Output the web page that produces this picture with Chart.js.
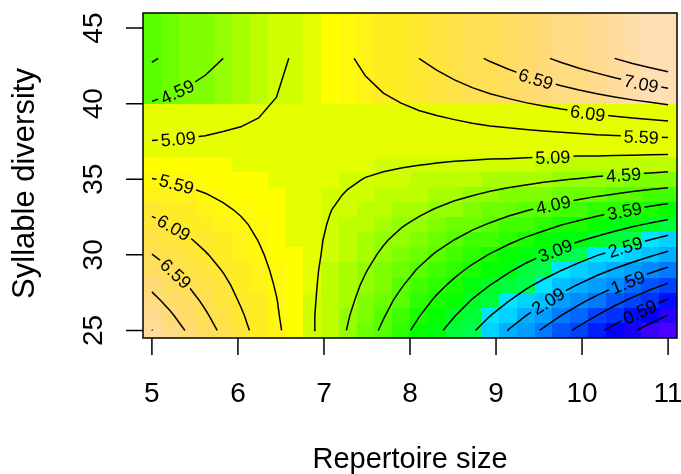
<!DOCTYPE html>
<html>
<head>
<meta charset="utf-8">
<script src="https://cdn.jsdelivr.net/npm/chart.js@4.4.1/dist/chart.umd.min.js"></script>
<style>
  html, body { margin: 0; padding: 0; background: #ffffff; }
  #wrap { width: 681px; height: 474px; }
</style>
</head>
<body>
<div id="wrap"><canvas id="chart" width="681" height="474"></canvas></div>
<script>
// Prediction grid: repertoire size (columns) by syllable diversity (rows)
const repertoireSize = [5.000, 5.207, 5.414, 5.621, 5.828, 6.034, 6.241, 6.448, 6.655, 6.862,
  7.069, 7.276, 7.483, 7.690, 7.897, 8.103, 8.310, 8.517, 8.724, 8.931,
  9.138, 9.345, 9.552, 9.759, 9.966, 10.172, 10.379, 10.586, 10.793, 11.000];
const syllableDiversity = [25, 26, 27, 28, 29, 30, 31, 32, 33, 34, 35, 36, 37, 43];

// Fitted response, one row per syllable diversity value
const fit25 = [7.60,7.32,7.05,6.77,6.50,6.22,5.95,5.67,5.39,5.12,4.84,4.57,4.29,4.01,3.74,3.46,3.19,2.91,2.64,2.36,2.08,1.81,1.53,1.26,0.98,0.71,0.43,0.15,-0.12,-0.40];
const fit26 = [7.40,7.15,6.89,6.64,6.39,6.14,5.88,5.63,5.38,5.13,4.87,4.62,4.37,4.12,3.86,3.61,3.36,3.11,2.85,2.60,2.35,2.10,1.84,1.59,1.34,1.09,0.83,0.58,0.33,0.08];
const fit27 = [7.20,6.97,6.74,6.51,6.28,6.05,5.82,5.60,5.37,5.14,4.91,4.68,4.45,4.22,3.99,3.76,3.53,3.30,3.07,2.84,2.62,2.39,2.16,1.93,1.70,1.47,1.24,1.01,0.78,0.55];
const fit28 = [7.00,6.79,6.59,6.38,6.18,5.97,5.76,5.56,5.35,5.15,4.94,4.73,4.53,4.32,4.12,3.91,3.70,3.50,3.29,3.09,2.88,2.67,2.47,2.26,2.06,1.85,1.65,1.44,1.23,1.03];
const fit29 = [6.80,6.62,6.43,6.25,6.07,5.89,5.70,5.52,5.34,5.16,4.97,4.79,4.61,4.43,4.24,4.06,3.88,3.69,3.51,3.33,3.15,2.96,2.78,2.60,2.42,2.23,2.05,1.87,1.68,1.50];
const fit30 = [6.60,6.44,6.28,6.12,5.96,5.80,5.64,5.48,5.32,5.17,5.01,4.85,4.69,4.53,4.37,4.21,4.05,3.89,3.73,3.57,3.41,3.25,3.09,2.93,2.77,2.61,2.46,2.30,2.14,1.98];
const fit31 = [6.40,6.26,6.13,5.99,5.86,5.72,5.58,5.45,5.31,5.17,5.04,4.90,4.77,4.63,4.49,4.36,4.22,4.09,3.95,3.81,3.68,3.54,3.41,3.27,3.13,3.00,2.86,2.72,2.59,2.45];
const fit32 = [6.20,6.09,5.97,5.86,5.75,5.64,5.52,5.41,5.30,5.18,5.07,4.96,4.85,4.73,4.62,4.51,4.39,4.28,4.17,4.06,3.94,3.83,3.72,3.60,3.49,3.38,3.27,3.15,3.04,2.93];
const fit33 = [6.00,5.91,5.82,5.73,5.64,5.55,5.46,5.37,5.28,5.19,5.10,5.01,4.92,4.84,4.75,4.66,4.57,4.48,4.39,4.30,4.21,4.12,4.03,3.94,3.85,3.76,3.67,3.58,3.49,3.40];
const fit34 = [5.80,5.73,5.67,5.60,5.53,5.47,5.40,5.34,5.27,5.20,5.14,5.07,5.00,4.94,4.87,4.81,4.74,4.67,4.61,4.54,4.47,4.41,4.34,4.27,4.21,4.14,4.08,4.01,3.94,3.88];
const fit35 = [5.60,5.56,5.51,5.47,5.43,5.38,5.34,5.30,5.26,5.21,5.17,5.13,5.08,5.04,5.00,4.95,4.91,4.87,4.83,4.78,4.74,4.70,4.65,4.61,4.57,4.52,4.48,4.44,4.40,4.35];
const fit36 = [5.40,5.38,5.36,5.34,5.32,5.30,5.28,5.26,5.24,5.22,5.20,5.18,5.16,5.14,5.12,5.10,5.08,5.06,5.04,5.02,5.01,4.99,4.97,4.95,4.93,4.91,4.89,4.87,4.85,4.83];
const fit37 = [5.20,5.20,5.20,5.20,5.21,5.21,5.21,5.21,5.21,5.21,5.21,5.22,5.22,5.22,5.22,5.22,5.22,5.22,5.23,5.23,5.23,5.23,5.23,5.23,5.23,5.24,5.24,5.24,5.24,5.24];
const fit43 = [4.04,4.18,4.31,4.45,4.59,4.72,4.86,5.00,5.13,5.27,5.41,5.54,5.68,5.82,5.95,6.09,6.22,6.36,6.50,6.64,6.77,6.91,7.04,7.18,7.32,7.45,7.59,7.73,7.86,8.00];

const fitted = [fit25, fit26, fit27, fit28, fit29, fit30, fit31, fit32, fit33, fit34, fit35, fit36, fit37, fit43];

const contourLevels = [0.09, 0.59, 1.09, 1.59, 2.09, 2.59, 3.09, 3.59, 4.09, 4.59, 5.09, 5.59, 6.09, 6.59, 7.09, 7.59];
const xTickValues = [5, 6, 7, 8, 9, 10, 11];
const yTickValues = [25, 30, 35, 40, 45];

// Where each contour label sits (level, and a point near which it is placed)
const labelLevels = [4.59, 5.09, 5.59, 6.09, 6.59, 6.59, 7.09, 6.09, 5.59, 5.09, 4.59, 4.09, 3.59, 3.09, 2.59, 2.09, 1.59, 0.59];
const labelNearX  = [5.27, 5.30, 5.29, 5.24, 5.23, 9.47, 10.69, 10.07, 10.69, 9.66, 10.48, 9.66, 10.49, 9.69, 10.50, 9.63, 10.52, 10.67];
const labelNearY  = [41.1, 38.07, 34.77, 31.67, 28.5, 41.77, 41.44, 39.52, 38.0, 36.62, 35.5, 33.45, 32.99, 30.28, 30.54, 26.72, 28.37, 26.25];

const FONT = '"Liberation Sans", Arial, Helvetica, sans-serif';

// ---- colour ramp in the style of R's topo.colors ----
function hsv(h, s, v) {
  const i = Math.floor(h * 6) % 6, f = h * 6 - Math.floor(h * 6);
  const p = v * (1 - s), q = v * (1 - s * f), t = v * (1 - s * (1 - f));
  const m = [[v, t, p], [q, v, p], [p, v, t], [p, q, v], [t, p, v], [v, p, q]][i];
  return 'rgb(' + m.map(c => Math.round(c * 255)).join(',') + ')';
}
function topoColors(n) {
  const j = Math.floor(n / 3), k = Math.floor(n / 3), i = n - j - k;
  const out = [];
  for (let a = 0; a < i; a++) out.push(hsv(43 / 60 + (31 / 60 - 43 / 60) * a / (i - 1), 1, 1));
  for (let a = 0; a < j; a++) out.push(hsv(23 / 60 + (11 / 60 - 23 / 60) * a / (j - 1), 1, 1));
  for (let a = 0; a < k; a++) out.push(hsv(10 / 60 + (6 / 60 - 10 / 60) * a / (k - 1), 1 + (0.3 - 1) * a / (k - 1), 1));
  return out;
}
const palette = topoColors(50);

// cell boundaries half way between grid values
function cellEdges(c) {
  const e = [c[0] - (c[1] - c[0]) / 2];
  for (let i = 0; i < c.length - 1; i++) e.push((c[i] + c[i + 1]) / 2);
  const n = c.length;
  e.push(c[n - 1] + (c[n - 1] - c[n - 2]) / 2);
  return e;
}
const xEdges = cellEdges(repertoireSize);
const yEdges = cellEdges(syllableDiversity);

let zMin = Infinity, zMax = -Infinity;
fitted.forEach(r => r.forEach(v => { zMin = Math.min(zMin, v); zMax = Math.max(zMax, v); }));
function colourFor(v) {
  const w = (zMax - zMin) / palette.length;
  let k = Math.ceil((v - zMin) / w) - 1;
  k = Math.max(0, Math.min(palette.length - 1, k));
  return palette[k];
}

// ---- contour tracing (marching squares on the grid) ----
function traceContour(xs, ys, z, level) {
  const segs = [];
  const up = v => v >= level;
  const cut = (xa, ya, za, xb, yb, zb) => {
    const t = (level - za) / (zb - za);
    return { x: xa + t * (xb - xa), y: ya + t * (yb - ya) };
  };
  for (let j = 0; j < ys.length - 1; j++) {
    for (let i = 0; i < xs.length - 1; i++) {
      const z00 = z[j][i], z10 = z[j][i + 1], z01 = z[j + 1][i], z11 = z[j + 1][i + 1];
      const e = [];
      if (up(z00) !== up(z10)) e.push({ s: 0, key: 'h' + i + '_' + j, pt: cut(xs[i], ys[j], z00, xs[i + 1], ys[j], z10) });
      if (up(z10) !== up(z11)) e.push({ s: 1, key: 'v' + (i + 1) + '_' + j, pt: cut(xs[i + 1], ys[j], z10, xs[i + 1], ys[j + 1], z11) });
      if (up(z01) !== up(z11)) e.push({ s: 2, key: 'h' + i + '_' + (j + 1), pt: cut(xs[i], ys[j + 1], z01, xs[i + 1], ys[j + 1], z11) });
      if (up(z00) !== up(z01)) e.push({ s: 3, key: 'v' + i + '_' + j, pt: cut(xs[i], ys[j], z00, xs[i], ys[j + 1], z01) });
      if (e.length === 2) segs.push([e[0], e[1]]);
      else if (e.length === 4) {
        const c = (z00 + z10 + z01 + z11) / 4;
        const side = s => e.find(q => q.s === s);
        [[z00, 3, 0], [z10, 0, 1], [z11, 1, 2], [z01, 2, 3]].forEach(([v, a, b]) => {
          if (up(v) !== up(c)) segs.push([side(a), side(b)]);
        });
      }
    }
  }
  const byKey = new Map();
  segs.forEach((s, idx) => s.forEach(p => {
    if (!byKey.has(p.key)) byKey.set(p.key, []);
    byKey.get(p.key).push(idx);
  }));
  const used = new Array(segs.length).fill(false);
  const walk = (idx, from) => {
    const pts = [segs[idx][from].pt];
    while (true) {
      used[idx] = true;
      const other = segs[idx][1 - from];
      pts.push(other.pt);
      const next = (byKey.get(other.key) || []).filter(k => !used[k]);
      if (!next.length) break;
      idx = next[0];
      from = segs[idx][0].key === other.key ? 0 : 1;
    }
    return pts;
  };
  const lines = [];
  segs.forEach((s, idx) => {
    if (used[idx]) return;
    for (let k = 0; k < 2; k++) {
      if (byKey.get(s[k].key).length === 1) { lines.push(walk(idx, k)); return; }
    }
  });
  segs.forEach((s, idx) => { if (!used[idx]) lines.push(walk(idx, 0)); });
  return lines;
}

const datasets = [];
contourLevels.forEach(level => {
  traceContour(repertoireSize, syllableDiversity, fitted, level).forEach(line => {
    datasets.push({
      level: level,
      data: line,
      showLine: true,
      pointRadius: 0,
      borderColor: '#000000',
      borderWidth: 1.5,
      fill: false,
      tension: 0
    });
  });
});

// ---- plugins: image cells, label gaps, contour labels, axes ----
const LABEL_FONT = '18px ' + FONT;
let placedLabels = [];

const surfacePlugin = {
  id: 'surface',
  beforeDatasetsDraw(chart) {
    const ctx = chart.ctx, sx = chart.scales.x, sy = chart.scales.y;
    ctx.save();
    for (let j = 0; j < syllableDiversity.length; j++) {
      const yTop = Math.round(sy.getPixelForValue(yEdges[j + 1]));
      const yBot = Math.round(sy.getPixelForValue(yEdges[j]));
      for (let i = 0; i < repertoireSize.length; i++) {
        const xL = Math.round(sx.getPixelForValue(xEdges[i]));
        const xR = Math.round(sx.getPixelForValue(xEdges[i + 1]));
        ctx.fillStyle = colourFor(fitted[j][i]);
        ctx.fillRect(xL, yTop, xR - xL, yBot - yTop);
      }
    }
    ctx.restore();

    // place labels on their contour lines
    ctx.font = LABEL_FONT;
    placedLabels = labelLevels.map((level, n) => {
      const ax = sx.getPixelForValue(labelNearX[n]), ay = sy.getPixelForValue(labelNearY[n]);
      let best = null;
      chart.data.datasets.forEach(ds => {
        if (ds.level !== level) return;
        const P = ds.data.map(p => [sx.getPixelForValue(p.x), sy.getPixelForValue(p.y)]);
        let acc = 0;
        for (let k = 0; k < P.length - 1; k++) {
          const dx = P[k + 1][0] - P[k][0], dy = P[k + 1][1] - P[k][1];
          const L2 = dx * dx + dy * dy, L = Math.sqrt(L2);
          let t = L2 > 0 ? ((ax - P[k][0]) * dx + (ay - P[k][1]) * dy) / L2 : 0;
          t = Math.max(0, Math.min(1, t));
          const px = P[k][0] + t * dx, py = P[k][1] + t * dy;
          const d = Math.hypot(px - ax, py - ay);
          if (!best || d < best.d) best = { d, P, s: acc + t * L, x: px, y: py };
          acc += L;
        }
      });
      if (!best) return null;
      const text = level.toFixed(2);
      const w = ctx.measureText(text).width;
      const at = s => {
        const P = best.P;
        let acc = 0;
        for (let k = 0; k < P.length - 1; k++) {
          const L = Math.hypot(P[k + 1][0] - P[k][0], P[k + 1][1] - P[k][1]);
          if (acc + L >= s || k === P.length - 2) {
            const t = L > 0 ? Math.max(0, Math.min(1, (s - acc) / L)) : 0;
            return [P[k][0] + t * (P[k + 1][0] - P[k][0]), P[k][1] + t * (P[k + 1][1] - P[k][1])];
          }
          acc += L;
        }
        return P[P.length - 1];
      };
      const a = at(best.s - w / 2), b = at(best.s + w / 2);
      let ang = Math.atan2(b[1] - a[1], b[0] - a[0]);
      if (ang > Math.PI / 2) ang -= Math.PI;
      if (ang < -Math.PI / 2) ang += Math.PI;
      return { text, x: best.x, y: best.y, ang, w };
    }).filter(Boolean);

    // keep contour lines out of the label boxes
    ctx.save();
    ctx.beginPath();
    ctx.rect(0, 0, chart.width, chart.height);
    placedLabels.forEach(l => {
      const hw = l.w / 2 + 3, hh = 8;
      const c = Math.cos(l.ang), s = Math.sin(l.ang);
      const pts = [[-hw, -hh], [hw, -hh], [hw, hh], [-hw, hh]].map(([u, v]) => [l.x + u * c - v * s, l.y + u * s + v * c]);
      ctx.moveTo(pts[0][0], pts[0][1]);
      for (let k = 1; k < 4; k++) ctx.lineTo(pts[k][0], pts[k][1]);
      ctx.closePath();
    });
    ctx.clip('evenodd');
  },
  afterDatasetsDraw(chart) {
    const ctx = chart.ctx;
    ctx.restore();
    ctx.save();
    ctx.font = LABEL_FONT;
    ctx.fillStyle = '#000000';
    ctx.textAlign = 'center';
    ctx.textBaseline = 'alphabetic';
    placedLabels.forEach(l => {
      ctx.save();
      ctx.translate(l.x, l.y);
      ctx.rotate(l.ang);
      ctx.fillText(l.text, 0, 6.5);
      ctx.restore();
    });
    ctx.restore();
  },
  afterDraw(chart) {
    const ctx = chart.ctx, a = chart.chartArea, sx = chart.scales.x, sy = chart.scales.y;
    ctx.save();
    ctx.strokeStyle = '#000000';
    ctx.fillStyle = '#000000';
    ctx.lineWidth = 1.5;
    ctx.strokeRect(a.left, a.top, a.right - a.left, a.bottom - a.top);
    const tick = 17;
    ctx.beginPath();
    xTickValues.forEach(v => {
      const px = sx.getPixelForValue(v);
      ctx.moveTo(px, a.bottom); ctx.lineTo(px, a.bottom + tick);
    });
    yTickValues.forEach(v => {
      const py = sy.getPixelForValue(v);
      ctx.moveTo(a.left - tick, py); ctx.lineTo(a.left, py);
    });
    ctx.stroke();

    ctx.font = '28px ' + FONT;
    ctx.textAlign = 'center';
    ctx.textBaseline = 'alphabetic';
    xTickValues.forEach(v => ctx.fillText(String(v), sx.getPixelForValue(v), a.bottom + 63.5));
    yTickValues.forEach(v => {
      ctx.save();
      ctx.translate(a.left - 41, sy.getPixelForValue(v));
      ctx.rotate(-Math.PI / 2);
      ctx.fillText(String(v), 0, 0);
      ctx.restore();
    });

    ctx.font = '29px ' + FONT;
    ctx.fillText('Repertoire size', (a.left + a.right) / 2, a.bottom + 130);
    ctx.save();
    ctx.translate(a.left - 109.5, (a.top + a.bottom) / 2 + 8);
    ctx.rotate(-Math.PI / 2);
    ctx.font = '31px ' + FONT;
    ctx.fillText('Syllable diversity', 0, 0);
    ctx.restore();
    ctx.restore();
  }
};

new Chart(document.getElementById('chart'), {
  type: 'scatter',
  data: { datasets },
  options: {
    responsive: false,
    animation: false,
    devicePixelRatio: 1,
    layout: { padding: { left: 143, right: 4, top: 13, bottom: 136 } },
    scales: {
      x: { type: 'linear', min: xEdges[0], max: xEdges[xEdges.length - 1], display: false },
      y: { type: 'linear', min: yEdges[0], max: yEdges[yEdges.length - 1], display: false }
    },
    plugins: { legend: { display: false }, tooltip: { enabled: false } },
    events: []
  },
  plugins: [surfacePlugin]
});
</script>
</body>
</html>
